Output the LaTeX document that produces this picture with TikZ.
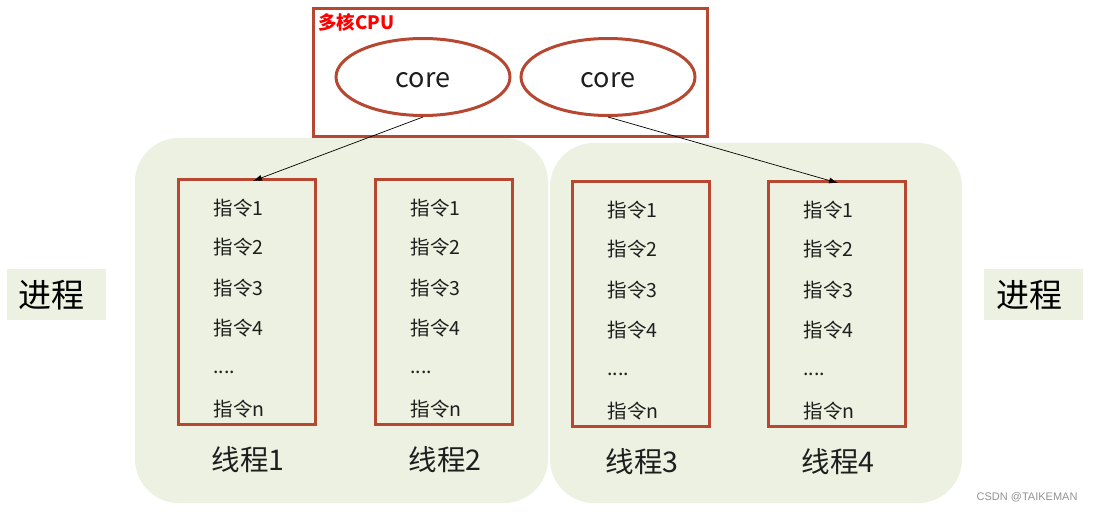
\documentclass[tikz,border=0pt]{standalone}
\usepackage{fontspec}
\setmainfont{Noto Sans CJK SC}
\newfontfamily\wmfont{Liberation Sans}
\usetikzlibrary{arrows.meta,shapes.geometric}
\definecolor{brick}{RGB}{182,72,50}
\definecolor{procbg}{RGB}{236,241,225}
\definecolor{txt}{RGB}{30,30,30}
\newcommand\elided{....}
\begin{document}
\begin{tikzpicture}[x=1pt,y=-1pt,
  proc/.style={fill=procbg,draw=none,rounded corners=44pt},
  thread/.style={draw=brick,line width=3pt},
  coreell/.style={draw=brick,line width=3pt,ellipse,minimum width=174pt,minimum height=77pt},
  corelabel/.style={font=\fontsize{27}{27}\selectfont,text=txt},
  instr/.style={anchor=west,font=\fontsize{19.5}{19.5}\selectfont,text=txt},
  tlabel/.style={font=\fontsize{28.5}{28.5}\selectfont,text=txt},
  plabel/.style={font=\fontsize{33}{33}\selectfont,text=black},
  link/.style={-{Latex[length=9pt,width=6pt]},line width=0.7pt,black}]
\useasboundingbox (0,0) rectangle (1095,513);
\fill[white] (0,0) rectangle (1095,513);

% process areas
\fill[proc] (135,138) rectangle (548,503);
\fill[proc] (550,143) rectangle (962,503);

% CPU package with two cores
\draw[draw=brick,line width=3pt,fill=white] (313,9) rectangle (707,137);
\node[anchor=north west,inner sep=0pt,text=red,font=\fontsize{18.5}{18.5}\selectfont\bfseries] (cpu) at (318,13) {多核CPU};
\node[coreell] (core1) at (423,77) {};
\node[coreell] (core2) at (608,77) {};
\node[corelabel] (c1t) at (423,80) {core};
\node[corelabel] (c2t) at (608,80) {core};

% threads with their instruction lists
\foreach \i/\xl/\yt in {1/178/180, 2/375/180, 3/572/182, 4/768/182}{
  \draw[thread] (\xl,\yt) rectangle ++(137,244);
  \coordinate (th\i) at ({\xl+68.5},\yt);
  \foreach \k/\t/\dy in {1/指令1/28, 2/指令2/67, 3/指令3/108, 4/指令4/148, 5/\elided/192, 6/指令n/229}{
    \node[instr] (ins\i-\k) at ({\xl+32},{\yt+\dy}) {\t};
  }
  \node[tlabel] (tl\i) at ({\xl+70},{\yt+280}) {线程\i};
}

% process labels
\fill[procbg] (7,269) rectangle (106,320);
\fill[procbg] (984,269) rectangle (1083,320);
\node[plabel] (pl) at (52,295) {进程};
\node[plabel] (pr) at (1029,295) {进程};

% core-to-thread assignment
\draw[link] (core1.south) -- (253,181);
\draw[link] (core2.south) -- (838,183);

% watermark
\node[text=gray!85,font=\fontsize{11}{11}\selectfont\wmfont,anchor=east] (wm) at (1081,497) {CSDN @TAIKEMAN};
\end{tikzpicture}
\end{document}
